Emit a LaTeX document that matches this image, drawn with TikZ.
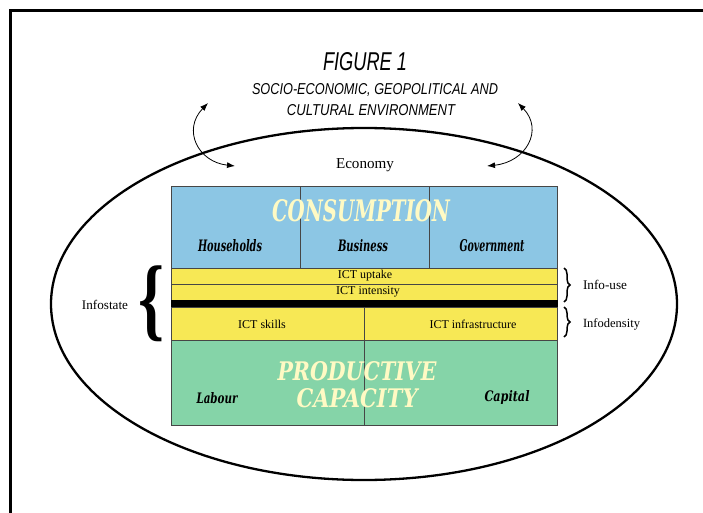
\documentclass[tikz,border=0pt]{standalone}
\usepackage{fontspec}
\setmainfont{Liberation Serif}
\newfontfamily\handfont{Liberation Sans}
\newfontfamily\brushfont{DejaVu Serif}
\usetikzlibrary{decorations.pathreplacing,arrows.meta}
\definecolor{cblue}{RGB}{140,198,228}
\definecolor{cgreen}{RGB}{133,212,168}
\definecolor{cyellow}{RGB}{247,232,85}
\definecolor{ccream}{RGB}{255,250,196}
\definecolor{cline}{RGB}{70,70,70}
\tikzset{
  cell/.style={draw=cline, line width=0.7pt, inner sep=0pt, outer sep=0pt, anchor=north west},
  lbl/.style={inner sep=0pt, outer sep=0pt},
  envarrow/.style={{Latex[length=8pt,width=6pt]}-{Latex[length=8pt,width=6pt]}, line width=0.8pt},
  rbrace/.style={decorate, decoration={brace, amplitude=6pt}, line width=1.5pt}
}
\newcommand{\fitbox}[3]{\resizebox{#1}{#2}{#3}}
\begin{document}
\begin{tikzpicture}[x=1pt,y=-1pt]
\useasboundingbox (0,0) rectangle (703,513);
% frame
\draw[line width=3pt] (10.5,513) -- (10.5,10.5) -- (703,10.5);
% titles
\node[lbl] (fig) at (365,62) {\fitbox{84pt}{18pt}{\handfont\itshape FIGURE 1}};
\node[lbl] (env1) at (375,90) {\fitbox{246pt}{11pt}{\handfont\itshape SOCIO-ECONOMIC, GEOPOLITICAL AND}};
\node[lbl] (env2) at (371,110) {\fitbox{168pt}{11pt}{\handfont\itshape CULTURAL ENVIRONMENT}};
% ellipse
\draw[line width=2.3pt] (364,304) ellipse [x radius=313, y radius=176];
% environment arrows
\coordinate (la1) at (208,103);
\coordinate (la2) at (235,166);
\coordinate (ra1) at (518,103);
\coordinate (ra2) at (487,166);
\draw[envarrow] (la1) .. controls (182,130) and (198,162) .. (la2);
\draw[envarrow] (ra1) .. controls (544,130) and (526,162) .. (ra2);
\node[lbl] (eco) at (365,165) {\fitbox{58pt}{!}{\fontsize{14}{14}\selectfont Economy}};
% consumption
\node[cell, fill=cblue, minimum width=129pt, minimum height=82pt] (hh) at (171,186) {};
\node[cell, fill=cblue, minimum width=129pt, minimum height=82pt] (bus) at (300,186) {};
\node[cell, fill=cblue, minimum width=128pt, minimum height=82pt] (gov) at (429,186) {};
\node[lbl, text=ccream] (cons) at (361,211) {\fitbox{178pt}{22pt}{\brushfont\bfseries\itshape CONSUMPTION}};
\node[lbl] (hht) at (230,246) {\fitbox{64pt}{12pt}{\brushfont\bfseries\itshape Households}};
\node[lbl] (bust) at (363,246) {\fitbox{50pt}{12pt}{\brushfont\bfseries\itshape Business}};
\node[lbl] (govt) at (492,246) {\fitbox{65pt}{12pt}{\brushfont\bfseries\itshape Government}};
% ICT rows
\node[cell, fill=cyellow, minimum width=386pt, minimum height=16pt] (upt) at (171,268) {};
\node[cell, fill=cyellow, minimum width=386pt, minimum height=16pt] (int) at (171,284) {};
\node[cell, fill=black, draw=black, minimum width=386pt, minimum height=7pt] (bar) at (171,300) {};
\node[cell, fill=cyellow, minimum width=193pt, minimum height=33pt] (skl) at (171,307) {};
\node[cell, fill=cyellow, minimum width=193pt, minimum height=33pt] (inf) at (364,307) {};
\node[lbl] (uptt) at (365,276) {\fontsize{12}{12}\selectfont ICT uptake};
\node[lbl] (intt) at (368,292) {\fontsize{12}{12}\selectfont ICT intensity};
\node[lbl] (sklt) at (262,324) {\fontsize{12}{12}\selectfont ICT skills};
\node[lbl] (inft) at (473,324) {\fontsize{12}{12}\selectfont ICT infrastructure};
% productive capacity
\node[cell, fill=cgreen, minimum width=193pt, minimum height=85pt] (lab) at (171,340) {};
\node[cell, fill=cgreen, minimum width=193pt, minimum height=85pt] (cap) at (364,340) {};
\node[lbl, text=ccream] (prod1) at (357,371) {\fitbox{159pt}{19pt}{\brushfont\bfseries\itshape PRODUCTIVE}};
\node[lbl, text=ccream] (prod2) at (357,398) {\fitbox{121pt}{19pt}{\brushfont\bfseries\itshape CAPACITY}};
\node[lbl] (labt) at (217,398) {\fitbox{41pt}{11pt}{\brushfont\bfseries\itshape Labour}};
\node[lbl] (capt) at (507,398) {\fitbox{45pt}{11pt}{\brushfont\bfseries\itshape Capital}};
% braces
\node[lbl] (lbr) at (152,304) {\resizebox*{26pt}{76pt}{\bfseries\{}};
\node[lbl] (infs) at (105,305) {\fitbox{46pt}{!}{\fontsize{11}{11}\selectfont Infostate}};
\coordinate (b1a) at (564,268);
\coordinate (b1b) at (564,302);
\coordinate (b2a) at (564,307);
\coordinate (b2b) at (564,337);
\draw[rbrace] (b1a) -- (b1b);
\draw[rbrace] (b2a) -- (b2b);
\node[lbl, anchor=west] (iu) at (583,285) {\fitbox{44pt}{!}{\fontsize{11}{11}\selectfont Info-use}};
\node[lbl, anchor=west] (idn) at (583,324) {\fitbox{57pt}{!}{\fontsize{11}{11}\selectfont Infodensity}};
\end{tikzpicture}
\end{document}
